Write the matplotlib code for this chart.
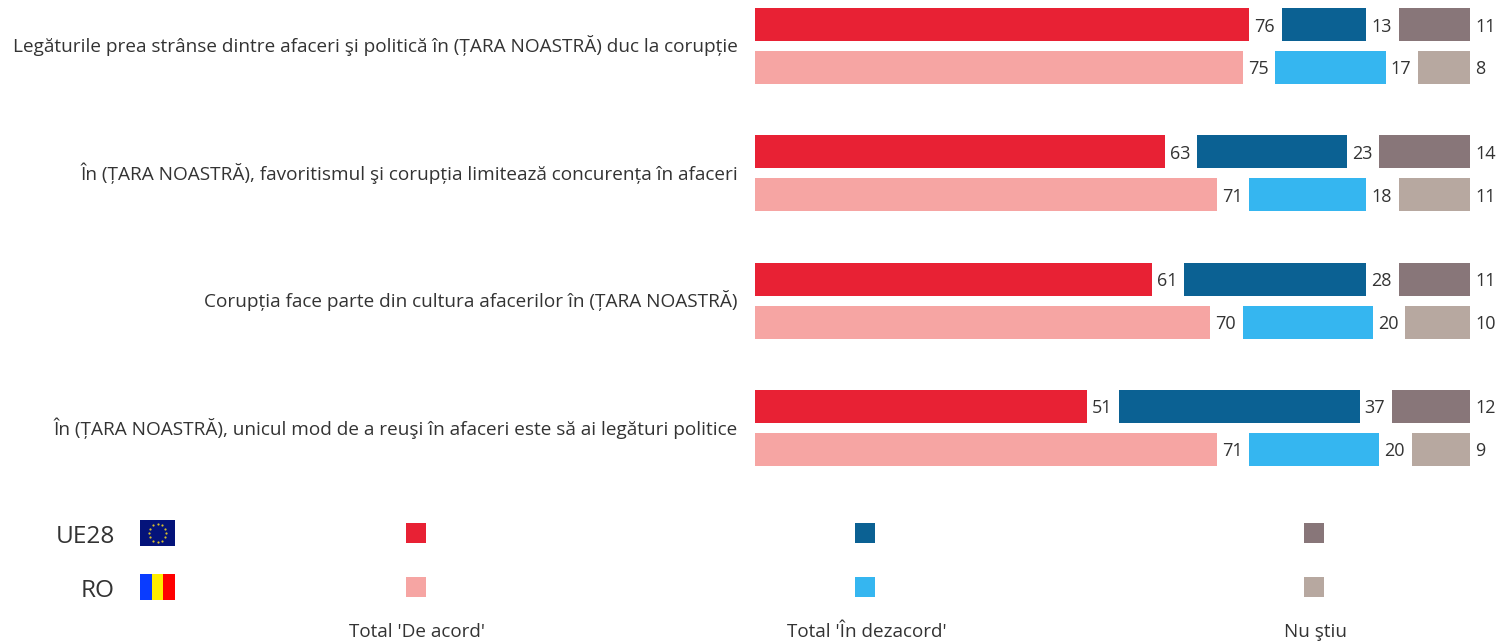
import numpy as np
import matplotlib
matplotlib.use('Agg')
import matplotlib.pyplot as plt
from matplotlib.patches import Rectangle

plt.rcParams['font.family'] = ['Open Sans', 'DejaVu Sans']

questions = [
    'Legăturile prea strânse dintre afaceri şi politică în (ȚARA NOASTRĂ) duc la corupție',
    'În (ȚARA NOASTRĂ), favoritismul şi corupția limitează concurența în afaceri',
    'Corupția face parte din cultura afacerilor în (ȚARA NOASTRĂ)',
    'În (ȚARA NOASTRĂ), unicul mod de a reuşi în afaceri este să ai legături politice',
]
ue_agree = [76, 63, 61, 51]
ue_disagree = [13, 23, 28, 37]
ue_dk = [11, 14, 11, 12]
ro_agree = [75, 71, 70, 71]
ro_disagree = [17, 18, 20, 20]
ro_dk = [8, 11, 10, 9]
answers = ["Total 'De acord'", "Total 'În dezacord'", 'Nu ştiu']
ue_colors = ['#e82134', '#0b6193', '#887679']
ro_colors = ['#f6a5a3', '#35b6f0', '#b7a8a0']
text_col = '#333333'

W, H = 1497, 641
fig = plt.figure(figsize=(W / 100, H / 100), dpi=100)

# bars: 6.5 px per percent, 5 units gap between segments
ax = fig.add_axes([755 / W, 1 - 480 / H, (W - 755) / W, 480 / H])
ax.set_xlim(0, (W - 755) / 6.5)
ax.set_ylim(480, 0)
ax.axis('off')

group_y = 24.5 + 127.3 * np.arange(len(questions))
bar_h = 33
gap = 5

def draw_row(y, parts, colors):
    left = 0
    for val, col in zip(parts, colors):
        ax.barh(y, val, left=left, height=bar_h, color=col)
        ax.text(left + val + 0.8, y + 2, str(val), va='center', ha='left',
                fontsize=13, color=text_col)
        left += val + gap

for i in range(len(questions)):
    draw_row(group_y[i], [ue_agree[i], ue_disagree[i], ue_dk[i]], ue_colors)
    draw_row(group_y[i] + 43, [ro_agree[i], ro_disagree[i], ro_dk[i]], ro_colors)
    fig.text(738 / W, 1 - (group_y[i] + 21.5) / H, questions[i], ha='right', va='center',
             fontsize=13.72, color=text_col)

# legend rows
fig.text(115 / W, 1 - 537 / H, 'UE28', ha='right', va='center', fontsize=17.6, color=text_col)
fig.text(115 / W, 1 - 591 / H, 'RO', ha='right', va='center', fontsize=17.6, color=text_col)

legend_x = [416, 865, 1314]
label_x = [417, 866.5, 1315.5]
for k in range(3):
    fig.add_artist(Rectangle(((legend_x[k] - 10) / W, 1 - 543 / H), 20 / W, 20 / H,
                             color=ue_colors[k], lw=0))
    fig.add_artist(Rectangle(((legend_x[k] - 10) / W, 1 - 597 / H), 20 / W, 20 / H,
                             color=ro_colors[k], lw=0))
    fig.text(label_x[k] / W, 1 - 632 / H, answers[k], ha='center', va='center',
             fontsize=13.6, color=text_col)

# flags
eu = fig.add_axes([140 / W, 1 - 546 / H, 35 / W, 26 / H])
eu.set_facecolor('#04137a')
eu.set_xlim(-1.35, 1.35)
eu.set_ylim(-1, 1)
eu.set_xticks([])
eu.set_yticks([])
for s in eu.spines.values():
    s.set_visible(False)
angles = np.arange(12) * np.pi / 6
eu.scatter(0.67 * np.cos(angles), 0.67 * np.sin(angles), marker='o', s=2.5, color='#d8c02a', lw=0)

ro = fig.add_axes([140 / W, 1 - 600 / H, 35 / W, 26 / H])
ro.set_xlim(0, 3)
ro.set_ylim(0, 1)
ro.axis('off')
for n, col in enumerate(['#0a3cff', '#ffee00', '#ff0000']):
    ro.bar(n + 0.5, 1, width=1, color=col)

fig.savefig('out.png', dpi=100)
